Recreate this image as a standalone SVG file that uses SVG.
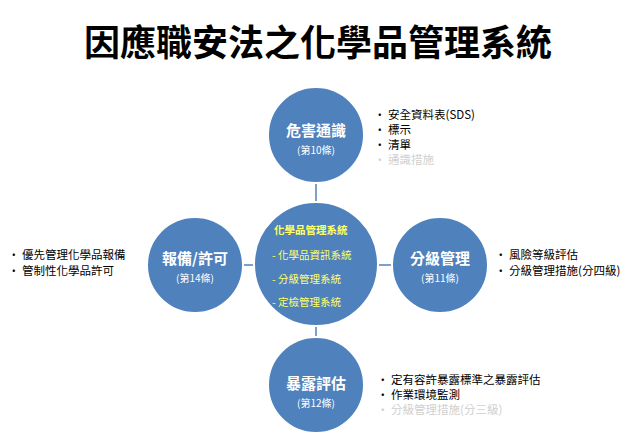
<svg xmlns="http://www.w3.org/2000/svg" width="640" height="444" viewBox="0 0 640 444">
<style>
text{font-family:"Noto Sans CJK TC","Noto Sans CJK SC",sans-serif}
.c{fill:#4f81bd;stroke:#fff;stroke-width:2}
.t{fill:#fff;font-size:15px;font-weight:bold;text-anchor:middle}
.s{fill:#fff;font-size:10px;text-anchor:middle}
.y{fill:#ffff66;font-size:10.5px}
.b{fill:#000;font-size:11.5px}
.f{fill:#d0d0d0;font-size:11.5px}
.l{stroke:#4f81bd;stroke-width:1.5;fill:none}
</style>
<rect width="640" height="444" fill="#fff"/>
<text x="318" y="56" text-anchor="middle" font-size="36" font-weight="bold" fill="#000">因應職安法之化學品管理系統</text>
<g id="connectors">
<path class="l" d="M316 182V338M242 265H393"/>
</g>
<g id="n-top"><circle class="c" cx="316" cy="135" r="48"/><text class="t" x="316" y="136">危害通識</text><text class="s" x="316" y="154">(第10條)</text></g>
<g id="n-center"><circle class="c" cx="316" cy="264" r="62"/>
<text class="y" x="274" y="234" font-size="12" font-weight="bold">化學品管理系統</text>
<text class="y" x="272" y="259">- 化學品資訊系統</text>
<text class="y" x="272" y="283">- 分級管理系統</text>
<text class="y" x="272" y="306">- 定檢管理系統</text></g>
<g id="n-left"><circle class="c" cx="195" cy="265" r="48"/><text class="t" x="195" y="264">報備/許可</text><text class="s" x="195" y="282">(第14條)</text></g>
<g id="n-right"><circle class="c" cx="440" cy="265" r="48"/><text class="t" x="440" y="264">分級管理</text><text class="s" x="440" y="282">(第11條)</text></g>
<g id="n-bottom"><circle class="c" cx="316" cy="385" r="48"/><text class="t" x="316" y="389">暴露評估</text><text class="s" x="316" y="407">(第12條)</text></g>
<g id="lists">
<text class="b" x="374" y="119">•  安全資料表(SDS)</text>
<text class="b" x="374" y="134">•  標示</text>
<text class="b" x="374" y="149">•  清單</text>
<text class="f" x="374" y="164">•  通識措施</text>
<text class="b" x="8" y="259">•  優先管理化學品報備</text>
<text class="b" x="8" y="275">•  管制性化學品許可</text>
<text class="b" x="495" y="259">•  風險等級評估</text>
<text class="b" x="495" y="275">•  分級管理措施(分四級)</text>
<text class="b" x="377" y="384">•  定有容許暴露標準之暴露評估</text>
<text class="b" x="377" y="399">•  作業環境監測</text>
<text class="f" x="377" y="414">•  分級管理措施(分三級)</text>
</g>
</svg>
